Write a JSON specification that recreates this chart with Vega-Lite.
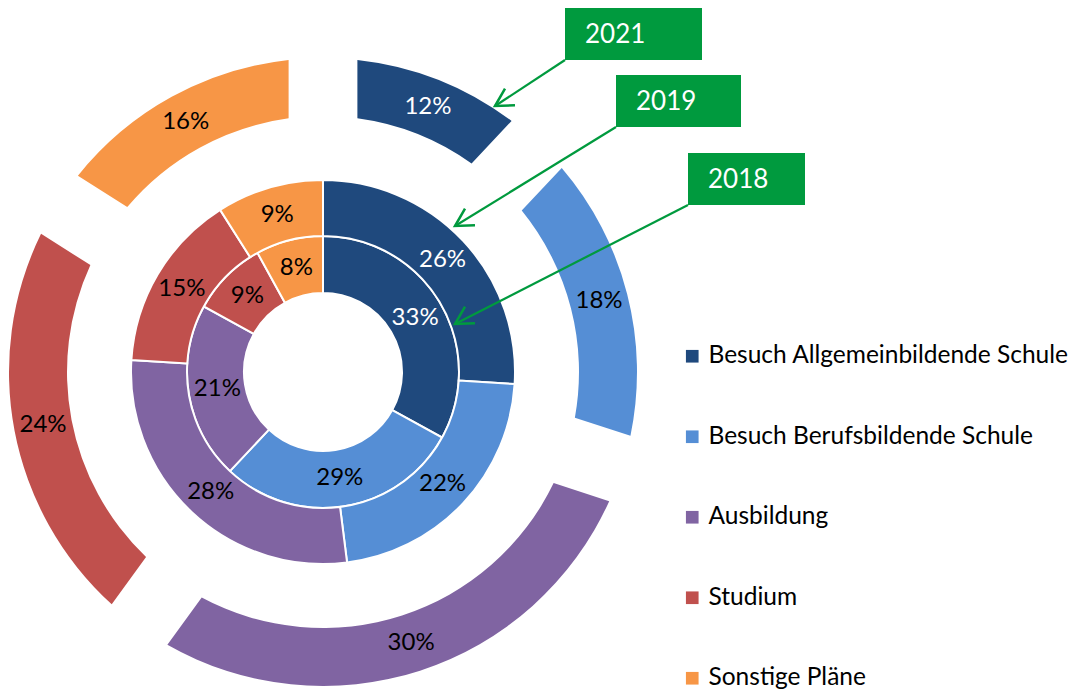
{
  "$schema": "https://vega.github.io/schema/vega-lite/v6.json",
  "width": 1079,
  "height": 691,
  "autosize": {"type": "fit", "contains": "padding"},
  "padding": 0,
  "config": {"view": {"stroke": null}, "font": "Lato"},
  "datasets": {
    "rings": [
      {"year": "2018", "cat": "Besuch Allgemeinbildende Schule", "k": 1, "value": 0.33},
      {"year": "2018", "cat": "Besuch Berufsbildende Schule", "k": 2, "value": 0.29},
      {"year": "2018", "cat": "Ausbildung", "k": 3, "value": 0.21},
      {"year": "2018", "cat": "Studium", "k": 4, "value": 0.09},
      {"year": "2018", "cat": "Sonstige Pläne", "k": 5, "value": 0.08},
      {"year": "2019", "cat": "Besuch Allgemeinbildende Schule", "k": 1, "value": 0.26},
      {"year": "2019", "cat": "Besuch Berufsbildende Schule", "k": 2, "value": 0.22},
      {"year": "2019", "cat": "Ausbildung", "k": 3, "value": 0.28},
      {"year": "2019", "cat": "Studium", "k": 4, "value": 0.15},
      {"year": "2019", "cat": "Sonstige Pläne", "k": 5, "value": 0.09},
      {"year": "2021", "cat": "Besuch Allgemeinbildende Schule", "k": 1, "value": 0.12},
      {"year": "2021", "cat": "Besuch Berufsbildende Schule", "k": 2, "value": 0.18},
      {"year": "2021", "cat": "Ausbildung", "k": 3, "value": 0.30},
      {"year": "2021", "cat": "Studium", "k": 4, "value": 0.24},
      {"year": "2021", "cat": "Sonstige Pläne", "k": 5, "value": 0.16}
    ],
    "notes": [
      {"label": "2021", "left": 242, "right": 379, "top": 364, "bottom": 312, "tipx": 172, "tipy": 266},
      {"label": "2019", "left": 293, "right": 418, "top": 297, "bottom": 245, "tipx": 132, "tipy": 146},
      {"label": "2018", "left": 365, "right": 482, "top": 219, "bottom": 167, "tipx": 132, "tipy": 48}
    ]
  },
  "layer": [
    {
      "data": {"name": "rings"},
      "transform": [{"filter": "datum.year === '2018'"}],
      "mark": {"type": "arc", "radius": 136, "radius2": 79, "stroke": "white", "strokeWidth": 2},
      "encoding": {
        "x": {"datum": 0, "type": "quantitative", "scale": {"domain": [-323, 756], "nice": false, "zero": false}, "axis": null},
        "y": {"datum": 0, "type": "quantitative", "scale": {"domain": [-319, 372], "nice": false, "zero": false}, "axis": null},
        "theta": {"field": "value", "type": "quantitative", "stack": true},
        "order": {"field": "k", "type": "quantitative"},
        "color": {
          "field": "cat", "type": "nominal",
          "scale": {"domain": ["Besuch Allgemeinbildende Schule", "Besuch Berufsbildende Schule", "Ausbildung", "Studium", "Sonstige Pläne"], "range": ["#1F497D", "#558ED5", "#8064A2", "#C0504D", "#F79646"]},
          "legend": {"orient": "none", "legendX": 680, "legendY": 344, "title": null, "symbolType": "square", "symbolSize": 160, "symbolStrokeWidth": 0, "labelFont": "Lato", "labelFontSize": 24.5, "labelColor": "black", "rowPadding": 55.5, "labelOffset": 4, "padding": 0, "labelLimit": 0}
        }
      }
    },
    {
      "data": {"name": "rings"},
      "transform": [{"filter": "datum.year === '2019'"}],
      "mark": {"type": "arc", "radius": 192, "radius2": 136, "stroke": "white", "strokeWidth": 2},
      "encoding": {
        "x": {"datum": 0, "type": "quantitative", "scale": {"domain": [-323, 756], "nice": false, "zero": false}, "axis": null},
        "y": {"datum": 0, "type": "quantitative", "scale": {"domain": [-319, 372], "nice": false, "zero": false}, "axis": null},
        "theta": {"field": "value", "type": "quantitative", "stack": true},
        "order": {"field": "k", "type": "quantitative"},
        "color": {"field": "cat", "type": "nominal"}
      }
    },
    {
      "data": {"name": "rings"},
      "transform": [{"filter": "datum.year === '2021'"}],
      "mark": {"type": "arc", "radius": 314, "radius2": 256, "padAngle": 0.17},
      "encoding": {
        "x": {"datum": 0, "type": "quantitative", "scale": {"domain": [-323, 756], "nice": false, "zero": false}, "axis": null},
        "y": {"datum": 0, "type": "quantitative", "scale": {"domain": [-319, 372], "nice": false, "zero": false}, "axis": null},
        "theta": {"field": "value", "type": "quantitative", "stack": true},
        "order": {"field": "k", "type": "quantitative"},
        "color": {"field": "cat", "type": "nominal"}
      }
    },
    {
      "data": {"name": "rings"},
      "transform": [{"filter": "datum.year === '2018'"}],
      "mark": {"type": "text", "radius": 107, "fontSize": 24, "font": "Lato"},
      "encoding": {
        "x": {"datum": 0, "type": "quantitative", "scale": {"domain": [-323, 756], "nice": false, "zero": false}, "axis": null},
        "y": {"datum": 0, "type": "quantitative", "scale": {"domain": [-319, 372], "nice": false, "zero": false}, "axis": null},
        "theta": {"field": "value", "type": "quantitative", "stack": true},
        "order": {"field": "k", "type": "quantitative"},
        "text": {"field": "value", "type": "quantitative", "format": ".0%"},
        "color": {"condition": {"test": "datum.cat === 'Besuch Allgemeinbildende Schule'", "value": "white"}, "value": "black"}
      }
    },
    {
      "data": {"name": "rings"},
      "transform": [{"filter": "datum.year === '2019'"}],
      "mark": {"type": "text", "radius": 164, "fontSize": 24, "font": "Lato"},
      "encoding": {
        "x": {"datum": 0, "type": "quantitative", "scale": {"domain": [-323, 756], "nice": false, "zero": false}, "axis": null},
        "y": {"datum": 0, "type": "quantitative", "scale": {"domain": [-319, 372], "nice": false, "zero": false}, "axis": null},
        "theta": {"field": "value", "type": "quantitative", "stack": true},
        "order": {"field": "k", "type": "quantitative"},
        "text": {"field": "value", "type": "quantitative", "format": ".0%"},
        "color": {"condition": {"test": "datum.cat === 'Besuch Allgemeinbildende Schule'", "value": "white"}, "value": "black"}
      }
    },
    {
      "data": {"name": "rings"},
      "transform": [{"filter": "datum.year === '2021'"}],
      "mark": {"type": "text", "radius": 285, "fontSize": 24, "font": "Lato"},
      "encoding": {
        "x": {"datum": 0, "type": "quantitative", "scale": {"domain": [-323, 756], "nice": false, "zero": false}, "axis": null},
        "y": {"datum": 0, "type": "quantitative", "scale": {"domain": [-319, 372], "nice": false, "zero": false}, "axis": null},
        "theta": {"field": "value", "type": "quantitative", "stack": true},
        "order": {"field": "k", "type": "quantitative"},
        "text": {"field": "value", "type": "quantitative", "format": ".0%"},
        "color": {"condition": {"test": "datum.cat === 'Besuch Allgemeinbildende Schule'", "value": "white"}, "value": "black"}
      }
    },
    {
      "data": {"name": "notes"},
      "mark": {"type": "rule", "stroke": "#009A3E", "strokeWidth": 2.2},
      "encoding": {
        "x": {"field": "left", "type": "quantitative", "scale": {"domain": [-323, 756], "nice": false, "zero": false}, "axis": null},
        "y": {"field": "bottom", "type": "quantitative", "scale": {"domain": [-319, 372], "nice": false, "zero": false}, "axis": null},
        "x2": {"field": "tipx"},
        "y2": {"field": "tipy"}
      }
    },
    {
      "data": {"name": "notes"},
      "mark": {"type": "point", "shape": "M-0.485,0.875L0,0L0.485,0.875", "size": 1600, "filled": false, "stroke": "#009A3E", "strokeWidth": 2.5, "angle": 239, "opacity": 1},
      "encoding": {
        "x": {"field": "tipx", "type": "quantitative", "scale": {"domain": [-323, 756], "nice": false, "zero": false}, "axis": null},
        "y": {"field": "tipy", "type": "quantitative", "scale": {"domain": [-319, 372], "nice": false, "zero": false}, "axis": null}
      }
    },
    {
      "data": {"name": "notes"},
      "mark": {"type": "rect", "color": "#009A3E"},
      "encoding": {
        "x": {"field": "left", "type": "quantitative", "scale": {"domain": [-323, 756], "nice": false, "zero": false}, "axis": null},
        "x2": {"field": "right"},
        "y": {"field": "top", "type": "quantitative", "scale": {"domain": [-319, 372], "nice": false, "zero": false}, "axis": null},
        "y2": {"field": "bottom"}
      }
    },
    {
      "data": {"name": "notes"},
      "mark": {"type": "text", "align": "left", "baseline": "middle", "dx": 20, "dy": 27, "fontSize": 26, "font": "Lato", "color": "white"},
      "encoding": {
        "x": {"field": "left", "type": "quantitative", "scale": {"domain": [-323, 756], "nice": false, "zero": false}, "axis": null},
        "y": {"field": "top", "type": "quantitative", "scale": {"domain": [-319, 372], "nice": false, "zero": false}, "axis": null},
        "text": {"field": "label", "type": "nominal"}
      }
    }
  ]
}
